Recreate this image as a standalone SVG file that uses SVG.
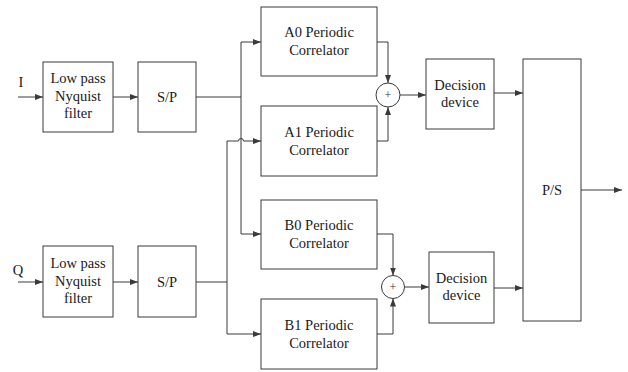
<svg xmlns="http://www.w3.org/2000/svg" width="628" height="372" viewBox="0 0 628 372">
<style>
.b{fill:#fff;stroke:#3a3a3a;stroke-width:1}
.l{fill:none;stroke:#3a3a3a;stroke-width:1}
text{font-family:'Liberation Serif','Times New Roman',serif;fill:#1a1a1a;text-anchor:middle}
.t{font-size:14.5px}
.p{font-size:12px;fill:#333}
</style>
<defs>
<marker id="ah" viewBox="0 0 8 6" refX="8" refY="3" markerWidth="8" markerHeight="6" markerUnits="userSpaceOnUse" orient="auto">
<path d="M0,0 L8,3 L0,6 z" fill="#3a3a3a"/>
</marker>
</defs>
<rect width="628" height="372" fill="#fff"/>
<g id="connectors">
<path class="l" d="M18,97 H43" marker-end="url(#ah)"/>
<path class="l" d="M113,97 H138" marker-end="url(#ah)"/>
<path class="l" d="M196,97 H241 V42 H261" marker-end="url(#ah)"/>
<path class="l" d="M241,97 V234 H261" marker-end="url(#ah)"/>
<path class="l" d="M18,282 H43" marker-end="url(#ah)"/>
<path class="l" d="M113,282 H138" marker-end="url(#ah)"/>
<path class="l" d="M196,282 H227"/>
<path class="l" d="M227,282 V141 H238.5 A2.5,2.5 0 0 1 243.5,141 H261" marker-end="url(#ah)"/>
<path class="l" d="M227,282 V334 H261" marker-end="url(#ah)"/>
<path class="l" d="M377,42 H388 V83" marker-end="url(#ah)"/>
<path class="l" d="M377,141 H388 V107" marker-end="url(#ah)"/>
<path class="l" d="M400,95 H426" marker-end="url(#ah)"/>
<path class="l" d="M377,234 H393 V275.5" marker-end="url(#ah)"/>
<path class="l" d="M377,334 H393 V298.5" marker-end="url(#ah)"/>
<path class="l" d="M404.5,287 H429" marker-end="url(#ah)"/>
<path class="l" d="M494,93 H523" marker-end="url(#ah)"/>
<path class="l" d="M494,288 H523" marker-end="url(#ah)"/>
<path class="l" d="M581,190 H622" marker-end="url(#ah)"/>
</g>
<g id="labelI"><text class="t" x="21" y="87">I</text></g>
<g id="labelQ"><text class="t" x="18" y="275">Q</text></g>
<g id="lpf1"><rect class="b" x="43" y="62" width="70" height="70"/>
<text class="t" x="78" y="83">Low pass</text><text class="t" x="78" y="100.5">Nyquist</text><text class="t" x="78" y="118">filter</text></g>
<g id="sp1"><rect class="b" x="138" y="62" width="58" height="70"/><text class="t" x="167" y="102">S/P</text></g>
<g id="lpf2"><rect class="b" x="43" y="246" width="70" height="71"/>
<text class="t" x="78" y="268">Low pass</text><text class="t" x="78" y="285.5">Nyquist</text><text class="t" x="78" y="303">filter</text></g>
<g id="sp2"><rect class="b" x="138" y="246" width="58" height="71"/><text class="t" x="167" y="287">S/P</text></g>
<g id="a0"><rect class="b" x="261" y="7" width="116" height="69"/>
<text class="t" x="319" y="37">A0 Periodic</text><text class="t" x="319" y="55">Correlator</text></g>
<g id="a1"><rect class="b" x="261" y="106" width="116" height="70"/>
<text class="t" x="319" y="137">A1 Periodic</text><text class="t" x="319" y="155">Correlator</text></g>
<g id="b0"><rect class="b" x="261" y="200" width="116" height="69"/>
<text class="t" x="319" y="230">B0 Periodic</text><text class="t" x="319" y="247.5">Correlator</text></g>
<g id="b1"><rect class="b" x="261" y="299" width="116" height="70"/>
<text class="t" x="319" y="330">B1 Periodic</text><text class="t" x="319" y="347.5">Correlator</text></g>
<g id="sum1"><circle class="b" cx="388" cy="95" r="12"/><text class="p" x="388" y="99">+</text></g>
<g id="sum2"><circle class="b" cx="393" cy="287" r="11.5"/><text class="p" x="393" y="291">+</text></g>
<g id="dec1"><rect class="b" x="426" y="59" width="68" height="70"/>
<text class="t" x="460" y="89.5">Decision</text><text class="t" x="460" y="107">device</text></g>
<g id="dec2"><rect class="b" x="429" y="252" width="65" height="71"/>
<text class="t" x="461.5" y="282.5">Decision</text><text class="t" x="461.5" y="300">device</text></g>
<g id="ps"><rect class="b" x="523" y="59" width="58" height="262"/><text class="t" x="552" y="195">P/S</text></g>
</svg>
